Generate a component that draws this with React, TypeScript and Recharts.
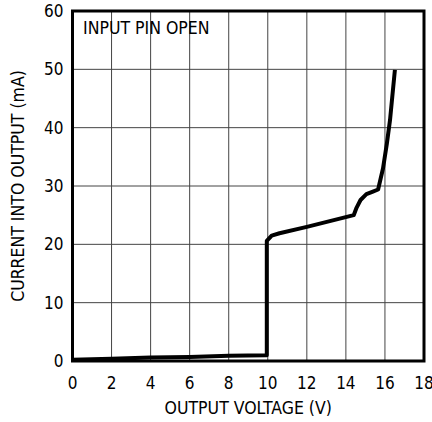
import React from "react";
import { LineChart, Line, XAxis, YAxis, CartesianGrid, ReferenceArea, Label } from "recharts";

const voltage = [0, 2, 4, 6, 8, 9.95, 9.95, 10.2, 10.6, 12, 14.4, 14.55, 14.75, 15.05, 15.35, 15.65, 15.9, 16.1, 16.26, 16.39, 16.51];
const current = [0.2, 0.4, 0.6, 0.7, 0.9, 1.0, 20.6, 21.5, 21.9, 23.0, 25.0, 26.3, 27.6, 28.6, 29.0, 29.4, 33.0, 37.3, 41.3, 45.8, 49.9];
const xTicks = [0, 2, 4, 6, 8, 10, 12, 14, 16, 18];
const yTicks = [0, 10, 20, 30, 40, 50, 60];

const data = voltage.map((v, i) => ({ v, c: current[i] }));

const FONT = "'Liberation Sans Narrow', 'DejaVu Sans Condensed', 'Liberation Sans', sans-serif";

export default function App() {
  return (
    <div style={{ position: "absolute", left: 0, top: 0, background: "#fff" }}>
      <LineChart width={432} height={422} data={data} margin={{ top: 11, right: 8, left: 0, bottom: 0 }}>
        <CartesianGrid stroke="#444" strokeWidth={1} />
        <XAxis
          dataKey="v"
          type="number"
          domain={[0, 18]}
          ticks={xTicks}
          interval={0}
          height={61}
          axisLine={false}
          tickLine={false}
          tickSize={0}
          tickMargin={16}
          tick={{ fill: "#000", fontSize: 17, fontFamily: FONT }}
        >
          <Label value="OUTPUT VOLTAGE (V)" position="insideBottom" offset={8} style={{ fill: "#000", fontSize: 17.5, fontFamily: FONT }} />
        </XAxis>
        <YAxis
          type="number"
          domain={[0, 60]}
          ticks={yTicks}
          interval={0}
          width={72.5}
          axisLine={false}
          tickLine={false}
          tickSize={0}
          tickMargin={9}
          tick={{ fill: "#000", fontSize: 17, fontFamily: FONT }}
        >
          <Label value="CURRENT INTO OUTPUT (mA)" position="insideLeft" angle={-90} offset={18} style={{ fill: "#000", fontSize: 17.5, fontFamily: FONT, textAnchor: "middle" }} />
        </YAxis>
        <ReferenceArea x1={0} x2={18} y1={0} y2={60} fill="none" stroke="#000" strokeWidth={3} ifOverflow="visible">
          <Label value="INPUT PIN OPEN" position="insideTopLeft" offset={10.5} style={{ fill: "#000", fontSize: 17.5, fontFamily: FONT }} />
        </ReferenceArea>
        <Line
          type="linear"
          dataKey="c"
          stroke="#000"
          strokeWidth={4}
          dot={false}
          isAnimationActive={false}
          strokeLinejoin="round"
        />
      </LineChart>
    </div>
  );
}
